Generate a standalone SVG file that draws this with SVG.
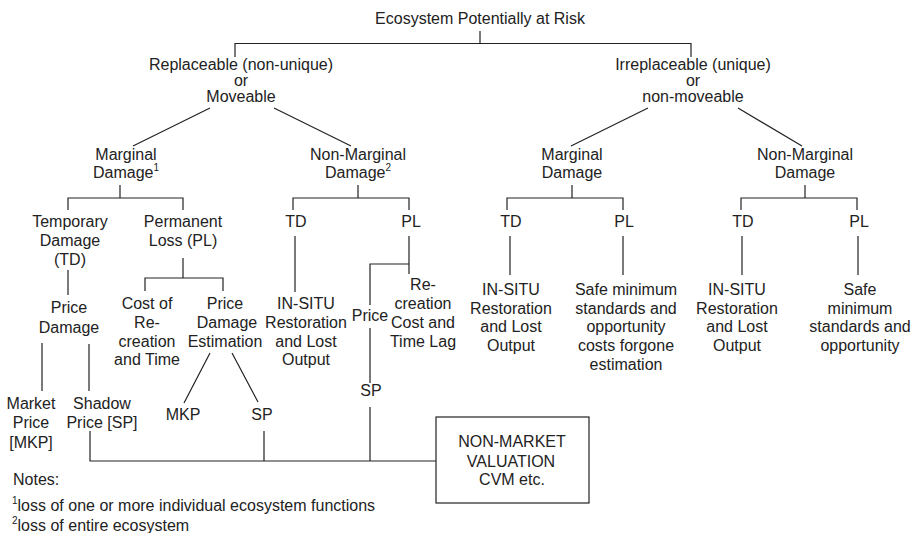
<svg xmlns="http://www.w3.org/2000/svg" width="919" height="533" viewBox="0 0 919 533">
  <style>
    text { font-family: "Liberation Sans", Arial, sans-serif; font-size: 16px; fill: #222; text-anchor: middle; }
    .left { text-anchor: start; }
    .sup { font-size: 10px; }
    .edge { stroke: #222; stroke-width: 1.2; fill: none; }
    .box { stroke: #222; stroke-width: 1.2; fill: #fff; }
  </style>
  <rect width="919" height="533" fill="#fff"/>

  <!-- connectors -->
  <g id="connectors" class="edge">
    <path d="M480 31V43.5M235 57V43.5H691V57"/>
    <path d="M210 108L133 146M274 108L351 146M648 108L571 146M738 108L802 146"/>
    <path d="M120 185V198M68 210V198H183V210"/>
    <path d="M358 185V198M293 210V198H409V210"/>
    <path d="M572 185V198M507 210V198H623V210"/>
    <path d="M805 185V198M741 210V198H857V210"/>
    <path d="M68 270V295"/>
    <path d="M183 258V278M145 291V278H223V291"/>
    <path d="M42 343V391M89 344V391"/>
    <path d="M210 353L184 403M232 353L258 402"/>
    <path d="M295 236V292"/>
    <path d="M409 236V274M409 264H370V305M370 328V383M370 407V461"/>
    <path d="M90 431V461H436M264 431V461"/>
    <path d="M510 236V275M623 236V275M742 236V275M858 236V275"/>
  </g>

  <g id="root"><text x="480" y="24">Ecosystem Potentially at Risk</text></g>

  <g id="replaceable">
    <text x="241" y="70">Replaceable (non-unique)</text>
    <text x="241" y="86">or</text>
    <text x="241" y="102">Moveable</text>
  </g>
  <g id="irreplaceable">
    <text x="693" y="70">Irreplaceable (unique)</text>
    <text x="693" y="86">or</text>
    <text x="693" y="102">non-moveable</text>
  </g>

  <g id="marginal-damage">
    <text x="126" y="160">Marginal</text>
    <text x="126" y="178">Damage<tspan class="sup" dy="-7">1</tspan></text>
  </g>
  <g id="non-marginal-damage">
    <text x="358" y="160">Non-Marginal</text>
    <text x="358" y="178">Damage<tspan class="sup" dy="-7">2</tspan></text>
  </g>
  <g id="marginal-damage-r">
    <text x="572" y="160">Marginal</text>
    <text x="572" y="178">Damage</text>
  </g>
  <g id="non-marginal-damage-r">
    <text x="805" y="160">Non-Marginal</text>
    <text x="805" y="178">Damage</text>
  </g>

  <g id="temporary-damage">
    <text x="70" y="227">Temporary</text>
    <text x="70" y="246">Damage</text>
    <text x="70" y="265">(TD)</text>
  </g>
  <g id="permanent-loss">
    <text x="183" y="227">Permanent</text>
    <text x="183" y="246">Loss (PL)</text>
  </g>
  <g id="nm-td"><text x="296" y="227">TD</text></g>
  <g id="nm-pl"><text x="411" y="227">PL</text></g>
  <g id="rm-td"><text x="511" y="227">TD</text></g>
  <g id="rm-pl"><text x="624" y="227">PL</text></g>
  <g id="rnm-td"><text x="743" y="227">TD</text></g>
  <g id="rnm-pl"><text x="859" y="227">PL</text></g>

  <g id="price-damage">
    <text x="69" y="313">Price</text>
    <text x="69" y="333">Damage</text>
  </g>
  <g id="cost-recreation">
    <text x="147" y="309">Cost of</text>
    <text x="147" y="328">Re-</text>
    <text x="147" y="347">creation</text>
    <text x="147" y="365">and Time</text>
  </g>
  <g id="price-damage-estimation">
    <text x="225" y="309">Price</text>
    <text x="227" y="328">Damage</text>
    <text x="225" y="347">Estimation</text>
  </g>
  <g id="nm-insitu">
    <text x="306" y="309">IN-SITU</text>
    <text x="306" y="328">Restoration</text>
    <text x="306" y="347">and Lost</text>
    <text x="306" y="365">Output</text>
  </g>
  <g id="nm-price"><text x="370" y="321">Price</text></g>
  <g id="nm-recreation">
    <text x="423" y="290">Re-</text>
    <text x="423" y="309">creation</text>
    <text x="423" y="328">Cost and</text>
    <text x="423" y="347">Time Lag</text>
  </g>
  <g id="nm-sp"><text x="371" y="396">SP</text></g>

  <g id="market-price">
    <text x="31" y="409">Market</text>
    <text x="31" y="428">Price</text>
    <text x="31" y="448">[MKP]</text>
  </g>
  <g id="shadow-price">
    <text x="102" y="409">Shadow</text>
    <text x="102" y="428">Price [SP]</text>
  </g>
  <g id="est-mkp"><text x="183" y="420">MKP</text></g>
  <g id="est-sp"><text x="262" y="420">SP</text></g>

  <g id="rm-insitu">
    <text x="511" y="295">IN-SITU</text>
    <text x="511" y="314">Restoration</text>
    <text x="511" y="332">and Lost</text>
    <text x="511" y="351">Output</text>
  </g>
  <g id="rm-safe-minimum">
    <text x="626" y="295">Safe minimum</text>
    <text x="626" y="314">standards and</text>
    <text x="626" y="332">opportunity</text>
    <text x="626" y="351">costs forgone</text>
    <text x="626" y="370">estimation</text>
  </g>
  <g id="rnm-insitu">
    <text x="737" y="295">IN-SITU</text>
    <text x="737" y="314">Restoration</text>
    <text x="737" y="332">and Lost</text>
    <text x="737" y="351">Output</text>
  </g>
  <g id="rnm-safe-minimum">
    <text x="860" y="295">Safe</text>
    <text x="860" y="314">minimum</text>
    <text x="860" y="332">standards and</text>
    <text x="860" y="351">opportunity</text>
  </g>

  <g id="non-market-valuation">
    <rect class="box" x="436" y="417" width="153" height="86"/>
    <text x="512" y="447">NON-MARKET</text>
    <text x="511" y="467">VALUATION</text>
    <text x="512" y="485">CVM etc.</text>
  </g>

  <g id="notes">
    <text class="left" x="13" y="485">Notes:</text>
    <text class="left" x="12" y="511"><tspan class="sup" dy="-7">1</tspan><tspan dy="7">loss of one or more individual ecosystem functions</tspan></text>
    <text class="left" x="12" y="531"><tspan class="sup" dy="-7">2</tspan><tspan dy="7">loss of entire ecosystem</tspan></text>
  </g>
</svg>
